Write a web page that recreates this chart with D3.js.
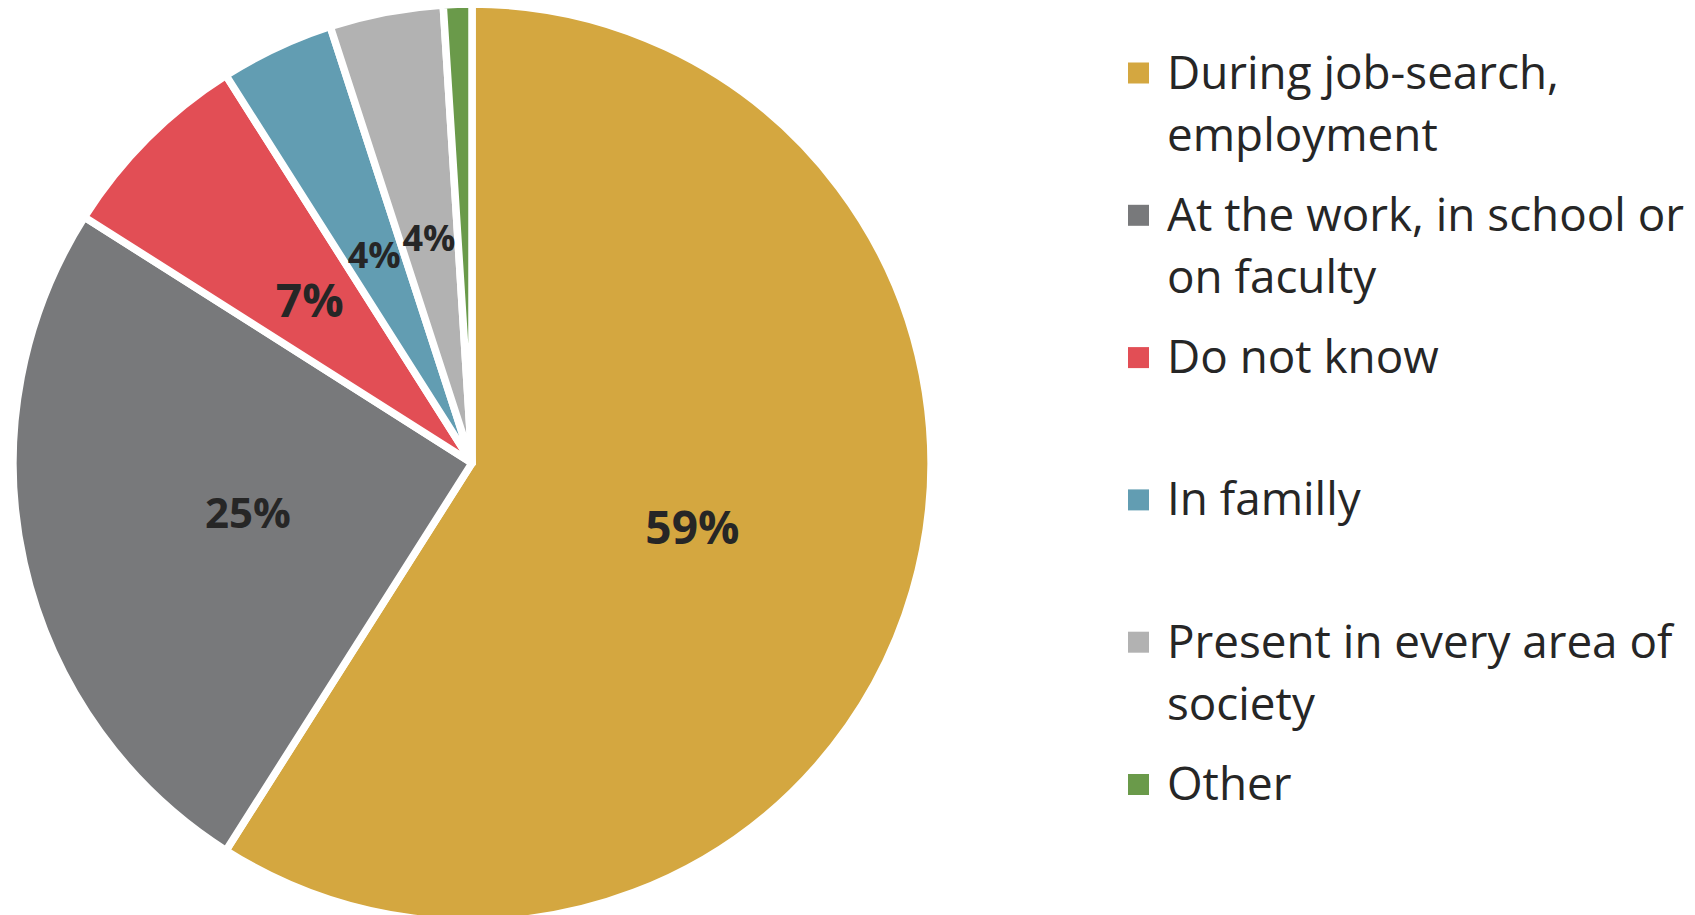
<!DOCTYPE html>
<html>
<head>
<meta charset="utf-8">
<script src="https://cdn.jsdelivr.net/npm/d3@7/dist/d3.min.js"></script>
<style>
  html, body { margin: 0; padding: 0; background: #ffffff; }
  svg { display: block; }
</style>
</head>
<body>
<svg id="chart" width="1695" height="915"></svg>
<script>
// ---- data ----
const categories = [
  "During job-search, employment",
  "At the work, in school or on faculty",
  "Do not know",
  "In familly",
  "Present in every area of society",
  "Other"
];
const values = [59, 25, 7, 4, 4, 1];
const labels = ["59%", "25%", "7%", "4%", "4%", ""];
const legendLines = [
  ["During job-search,", "employment"],
  ["At the work, in school or", "on faculty"],
  ["Do not know"],
  ["In familly"],
  ["Present in every area of", "society"],
  ["Other"]
];
const colors = ["#D4A740", "#78797B", "#E24E55", "#629DB2", "#B2B2B2", "#6A9A4A"];
const labelSizes = [46, 42, 46, 36, 36, 36];

// ---- layout ----
const svg = d3.select("#chart");
const cx = 472, cy = 463, R = 459;

const pie = d3.pie().sort(null).value(d => d.value);
const arc = d3.arc().innerRadius(0).outerRadius(R);
const data = categories.map((c, i) => ({ name: c, value: values[i], label: labels[i], color: colors[i], size: labelSizes[i] }));
const arcs = pie(data);

const g = svg.append("g").attr("transform", `translate(${cx},${cy})`);
g.selectAll("path.slice")
  .data(arcs)
  .join("path")
  .attr("class", "slice")
  .attr("d", arc)
  .attr("fill", d => d.data.color)
  .attr("stroke", "#ffffff")
  .attr("stroke-width", 7.5)
  .attr("stroke-linejoin", "round");

g.selectAll("text.lbl")
  .data(arcs.filter(d => d.data.label))
  .join("text")
  .attr("class", "lbl")
  .attr("transform", d => `translate(${arc.centroid(d)})`)
  .attr("text-anchor", "middle")
  .attr("dy", "0.36em")
  .attr("font-family", "'Open Sans', sans-serif")
  .attr("font-weight", 700)
  .attr("font-size", d => d.data.size)
  .attr("fill", "#262626")
  .text(d => d.data.label);

// ---- legend ----
const legendX = 1128, legendY0 = 73, legendStep = 142.3, sw = 21;
const lg = svg.append("g");
const items = lg.selectAll("g.item")
  .data(data)
  .join("g")
  .attr("class", "item")
  .attr("transform", (d, i) => `translate(${legendX},${legendY0 + i * legendStep})`);
items.append("rect")
  .attr("x", 0).attr("y", -sw / 2)
  .attr("width", sw).attr("height", sw)
  .attr("fill", d => d.color);
items.append("text")
  .attr("x", 39)
  .attr("y", 15.5)
  .attr("font-family", "'Open Sans', sans-serif")
  .attr("font-size", 45.8)
  .attr("fill", "#262626")
  .selectAll("tspan")
  .data((d, i) => legendLines[i])
  .join("tspan")
  .attr("x", 39)
  .attr("dy", (d, j) => j === 0 ? 0 : 62)
  .text(d => d);
</script>
</body>
</html>
